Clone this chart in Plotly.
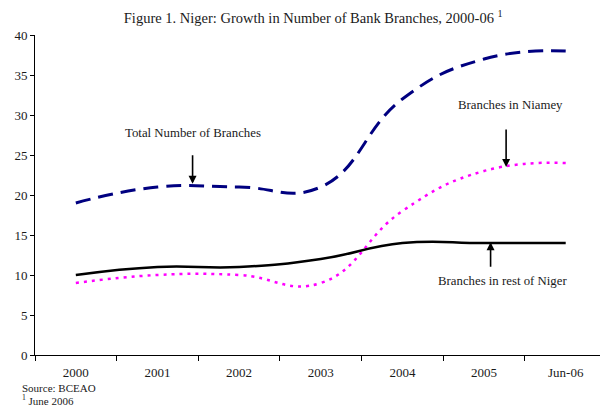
import plotly.graph_objects as go

years = ["2000", "2001", "2002", "2003", "2004", "2005", "Jun-06"]
total_branches = [19, 21, 21, 21, 32, 37, 38]
niamey_branches = [9, 10, 10, 9, 18, 23, 24]
rest_branches = [10, 11, 11, 12, 14, 14, 14]

SERIF = "Liberation Serif, Times New Roman, serif"
INK = "#1a1a1a"

fig = go.Figure()
fig.add_trace(go.Scatter(
    x=years, y=total_branches, mode="lines", name="Total Number of Branches",
    line=dict(color="#000080", width=3, dash="15px,8px", shape="spline", smoothing=1.3),
))
fig.add_trace(go.Scatter(
    x=years, y=niamey_branches, mode="lines", name="Branches in Niamey",
    line=dict(color="#FF00FF", width=2.5, dash="3px,5px", shape="spline", smoothing=1.3),
))
fig.add_trace(go.Scatter(
    x=years, y=rest_branches, mode="lines", name="Branches in rest of Niger",
    line=dict(color="#000000", width=2.5, shape="spline", smoothing=1.3),
))

txt = dict(family=SERIF, size=12.8, color=INK)

# series labels with separate pointer arrows
fig.add_annotation(x=1.43, y=27.7, text="Total Number of Branches", showarrow=False, font=txt)
fig.add_annotation(x=1.43, y=21.4, ax=0, ay=-30, text="", showarrow=True,
                   arrowhead=2, arrowsize=1, arrowwidth=1.6, arrowcolor="black")
fig.add_annotation(x=5.32, y=31.3, text="Branches in Niamey", showarrow=False, font=txt)
fig.add_annotation(x=5.27, y=23.5, ax=0, ay=-39, text="", showarrow=True,
                   arrowhead=2, arrowsize=1, arrowwidth=1.6, arrowcolor="black")
fig.add_annotation(x=5.23, y=9.2, text="Branches in rest of Niger", showarrow=False, font=txt)
fig.add_annotation(x=5.08, y=14.1, ax=0, ay=26, text="", showarrow=True,
                   arrowhead=2, arrowsize=1, arrowwidth=1.6, arrowcolor="black")

# source notes below the axis
note = dict(family=SERIF, size=11, color=INK)
fig.add_annotation(xref="paper", yref="paper", x=-0.026, y=-0.103, xanchor="left", yanchor="middle",
                   text="Source: BCEAO", showarrow=False, font=note)
fig.add_annotation(xref="paper", yref="paper", x=-0.026, y=-0.142, xanchor="left", yanchor="middle",
                   text="<sup>1</sup> June 2006", showarrow=False, font=note)

fig.update_layout(
    width=600, height=406,
    margin=dict(l=35, r=0, t=35, b=51),
    paper_bgcolor="white", plot_bgcolor="white",
    showlegend=False,
    title=dict(text="Figure 1. Niger: Growth in Number of Bank Branches, 2000-06 <sup>1</sup>",
               xref="container", x=0.522, xanchor="center", y=0.955, yanchor="middle",
               font=dict(family=SERIF, size=14.5, color=INK)),
    font=dict(family=SERIF, size=13, color=INK),
)
fig.update_xaxes(
    type="category", range=[-0.5, 6.42], showgrid=False, zeroline=False,
    showline=True, linecolor="black", linewidth=1,
    ticks="outside", tickson="boundaries", ticklen=5, tickcolor="black",
    ticklabelstandoff=5, tickfont=dict(family=SERIF, size=13, color=INK),
)
fig.update_yaxes(
    range=[0, 40], dtick=5, showgrid=False, zeroline=False,
    showline=True, linecolor="black", linewidth=1,
    ticks="outside", ticklen=4, tickcolor="black",
    tickfont=dict(family=SERIF, size=13, color=INK),
)

fig.write_html("out.html")
